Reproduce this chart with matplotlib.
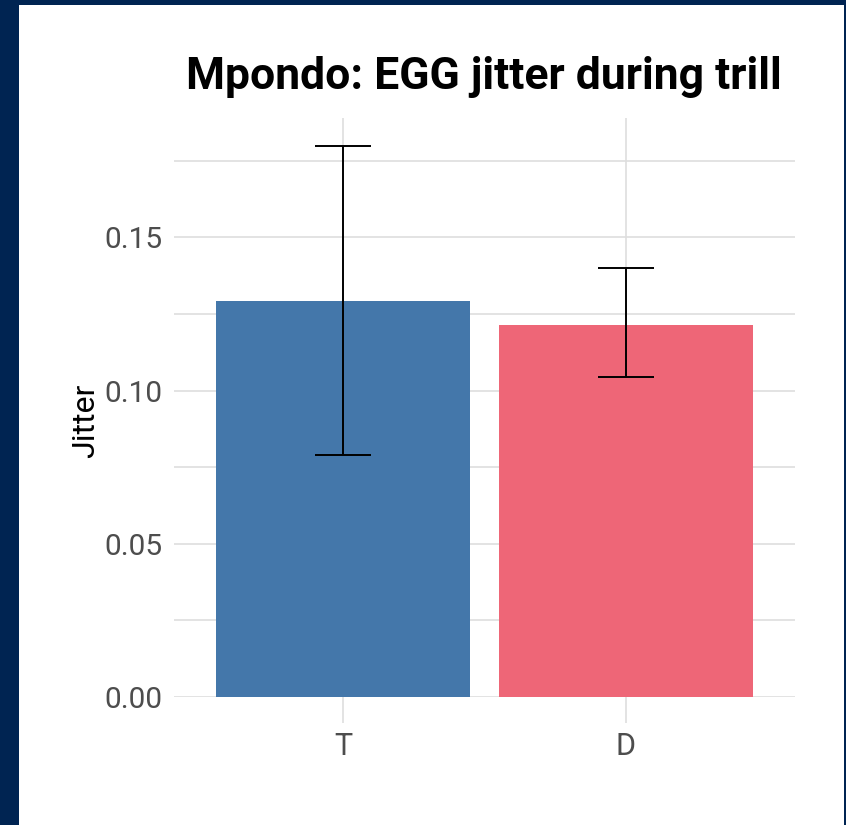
import matplotlib.pyplot as plt
from matplotlib.patches import Rectangle

# Data: mean jitter per group with error bar bounds
groups = ['T', 'D']
jitter_mean = [0.1294, 0.1213]
err_low = [0.0789, 0.1043]
err_high = [0.1797, 0.1399]
bar_colors = ['#4477AA', '#EE6677']

yticks = [0.00, 0.05, 0.10, 0.15]
minor_yticks = [0.025, 0.075, 0.125, 0.175]

FONT = ['Roboto', 'DejaVu Sans']
plt.rcParams['font.family'] = FONT

W, H = 846, 825
fig = plt.figure(figsize=(W / 100, H / 100), dpi=100, facecolor='#002452')

# White panel inside the navy frame
fig.patches.append(Rectangle((19 / W, 0), (844 - 19) / W, 820 / H,
                             transform=fig.transFigure, facecolor='white',
                             edgecolor='none', zorder=-1))

ax = fig.add_axes([174 / W, 1 - 697 / H, (795 - 174) / W, (697 - 118) / H])
ax.set_zorder(1)
ax.set_facecolor('none')

x = list(range(1, len(groups) + 1))
ax.bar(x, jitter_mean, width=0.9, color=bar_colors, zorder=2)

yerr = [[m - lo for m, lo in zip(jitter_mean, err_low)],
        [hi - m for m, hi in zip(jitter_mean, err_high)]]
ax.errorbar(x, jitter_mean, yerr=yerr, fmt='none', ecolor='black',
            elinewidth=1.4, capsize=20, capthick=1.4, zorder=3)

ax.set_xlim(0.4, 2.6)
ax.set_ylim(0, 0.189)
ax.set_xticks(x)
ax.set_xticklabels(groups)
ax.set_yticks(yticks)
ax.set_yticklabels([f'{v:.2f}' for v in yticks])
ax.set_yticks(minor_yticks, minor=True)

grid_c = '#DEDEDE'
ax.grid(True, which='major', color=grid_c, linewidth=1.2, zorder=0)
ax.grid(True, which='minor', axis='y', color=grid_c, linewidth=1.2, zorder=0)
ax.set_axisbelow(True)
for s in ax.spines.values():
    s.set_visible(False)

ax.tick_params(axis='x', length=19, width=1.2, color=grid_c, pad=6,
               labelsize=22, labelcolor='#4D4D4D')
ax.tick_params(axis='y', which='both', length=0, pad=8,
               labelsize=21.5, labelcolor='#4D4D4D')

ax.set_ylabel('Jitter', fontsize=23, color='black', labelpad=3)
ax.yaxis.label.set_y(0.477)

fig.text(484 / W, 1 - 77 / H, 'Mpondo: EGG jitter during trill',
         ha='center', va='center', fontsize=32, fontweight='bold',
         color='black')

fig.savefig('out.png', dpi=100, facecolor=fig.get_facecolor())
